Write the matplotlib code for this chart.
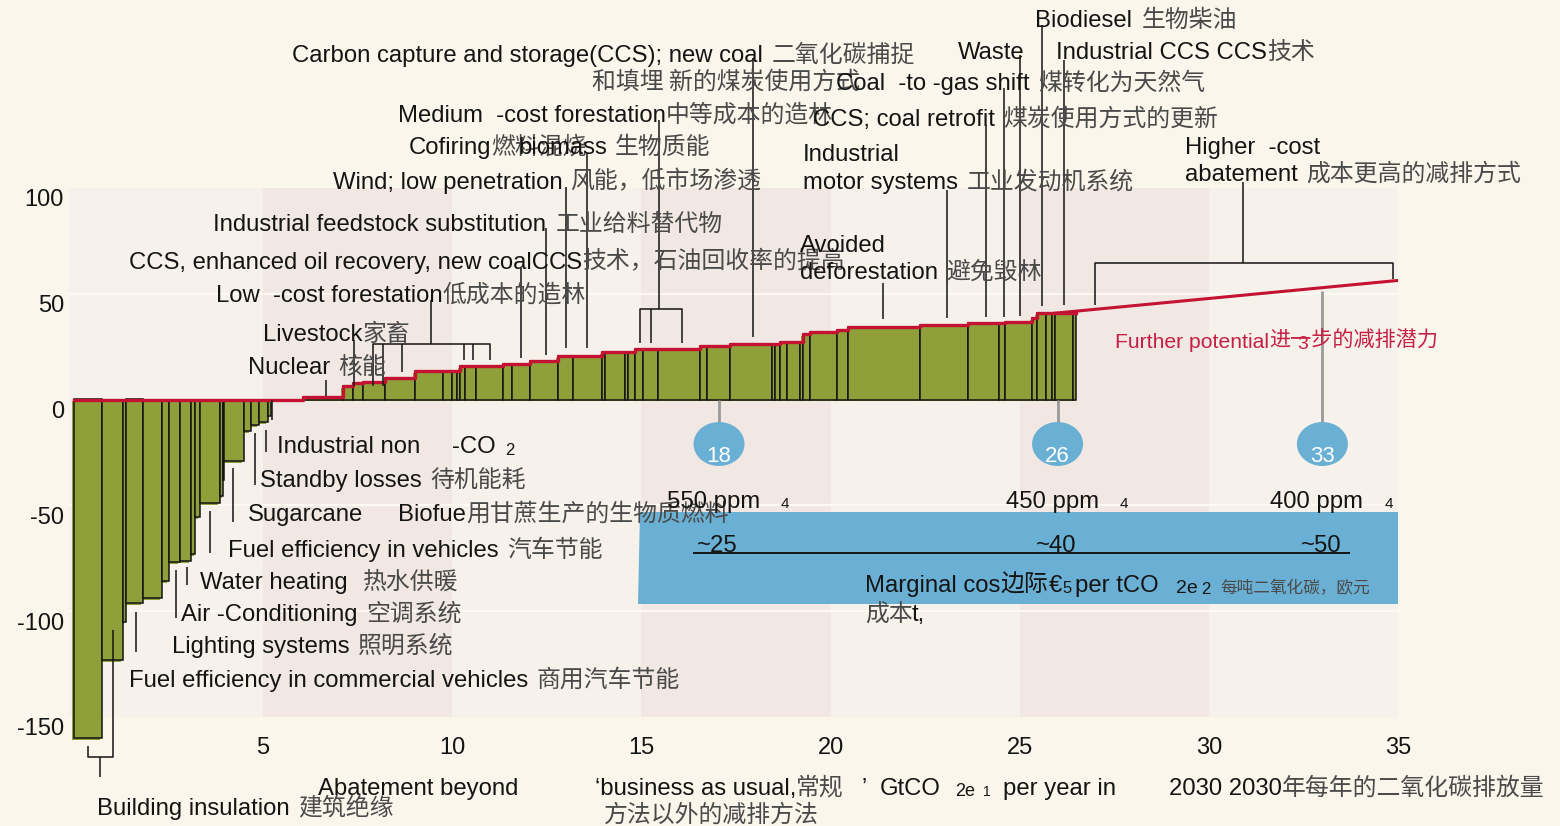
import matplotlib
matplotlib.use("Agg")
import matplotlib.pyplot as plt
from matplotlib.patches import Rectangle, Ellipse, Polygon

EN = "Liberation Sans"
CN = "Noto Sans CJK SC"
plt.rcParams["font.family"] = [EN, CN, "DejaVu Sans"]

# ---- data: abatement (GtCO2e / yr) vs cost (EUR / tCO2e) --------------------
neg_edges = [0, 0.73, 1.29, 1.37, 1.83, 2.33, 2.51, 2.80, 3.08, 3.21, 3.33,
             3.86, 3.95, 3.97, 4.50, 4.67, 4.88, 5.12, 5.20]
neg_costs = [-160, -123, -105, -96, -94, -86, -77, -76.5, -73, -55.5, -49,
             -45.5, -38, -29, -14.7, -12, -10.8, -8]
pos_edges = [6.06, 7.12, 7.38, 7.65, 8.22, 9.01, 9.76, 9.98, 10.12, 10.20,
             10.34, 10.62, 11.35, 11.57, 12.05, 12.80, 13.20, 13.95, 14.04,
             14.57, 14.65, 14.83, 15.05, 15.45, 16.55, 16.72, 17.34, 18.44,
             18.53, 18.66, 18.84, 19.19, 19.28, 19.46, 20.16, 20.47, 22.36,
             23.64, 24.46, 24.61, 25.32, 25.45, 25.69, 25.84, 25.93, 26.42,
             26.50]
pos_costs = [1.3, 6.4, 7.6, 8.4, 10.0, 13.6, 13.6, 13.6, 13.6, 15.8, 15.8,
             15.8, 16.6, 16.6, 18.2, 20.6, 20.6, 22.3, 22.3, 22.3, 22.3, 23.7,
             23.7, 23.7, 25.4, 25.4, 26.2, 26.2, 26.2, 27.0, 27.0, 27.0, 31.0,
             32.0, 32.7, 34.4, 35.4, 36.2, 36.2, 36.5, 38.4, 41.0, 41.0, 41.0,
             40.7, 40.7]
further_x = [25.93, 34.96]
further_y = [40.8, 56.2]

x_ticks = [5, 10, 15, 20, 25, 30, 35]
y_ticks = [100, 50, 0, -50, -100, -150]
bands = [(5, 10), (15, 20), (25, 30)]

target_x = [17.05, 26.0, 33.0]
target_labels = ["18", "26", "33"]
ppm_labels = ["550 ppm", "450 ppm", "400 ppm"]
cost_labels = ["~25", "~40", "~50"]

# ---- colours ----------------------------------------------------------------
CREAM = "#faf6ec"
PLOT_BG = "#f6f1ea"
BAND = "#f1e8e3"
GREEN = "#8fa03a"
RED = "#c41232"
BLUE = "#6ab0d4"
INK = "#141414"
CN_INK = "#4a4a4a"
FS = 17.2

# pixel -> data mapping of the reference layout
XPX, XS = 74.0, 37.83
YPX, YS = 399.5, 2.116


def px2d(px, py):
    return (px - XPX) / XS, (YPX - py) / YS


fig = plt.figure(figsize=(15.6, 8.26), dpi=100, facecolor=CREAM)
ax = fig.add_axes([0, 0, 1, 1])
ax.set_xlim(px2d(0, 0)[0], px2d(1560, 0)[0])
ax.set_ylim(px2d(0, 826)[1], px2d(0, 0)[1])
ax.axis("off")

# plot background + bands + faint grid
ax.add_patch(Rectangle((-0.13, y_ticks[-1]), 35.13, y_ticks[0] - y_ticks[-1],
                       fc=PLOT_BG, ec="none", zorder=0))
for a, b in bands:
    ax.add_patch(Rectangle((a, y_ticks[-1]), b - a, y_ticks[0] - y_ticks[-1],
                           fc=BAND, ec="none", zorder=0.1))
ax.hlines([50, -50, -100], -0.13, 35, color="#fcfaf3", lw=1.6, zorder=0.2)

# bars
segs = list(zip(neg_edges[:-1], neg_edges[1:], neg_costs)) + \
    list(zip(pos_edges[:-1], pos_edges[1:], pos_costs))
for x0, x1, h in segs:
    w = x1 - x0
    ax.add_patch(Rectangle((x0 - 0.05, min(0, h) - 0.9), w, abs(h),
                           fc=GREEN, ec="none", zorder=1))
    ax.add_patch(Rectangle((x0, min(0, h)), w, abs(h), fc=GREEN, ec=INK,
                           lw=1.1, zorder=2))

# red cost curve
edges = neg_edges + pos_edges
tops = [0] * len(neg_costs) + [0] + pos_costs
ax.step(edges, tops + [tops[-1]], where="post", color=RED, lw=2.4, zorder=3)
ax.plot(further_x, further_y, color=RED, lw=2.2, zorder=3)

# tick labels
for v in y_ticks:
    x, y = px2d(64, YPX - v * YS + 10 + 8.5)
    ax.text(x, y, str(v), fontsize=17, color=INK, ha="right", va="baseline")
for v in x_ticks:
    x, y = px2d(XPX + v * XS, 745 + 8.5)
    ax.text(x, y, str(v), fontsize=17, color=INK, ha="center", va="baseline")


def label(px, py, en="", cn="", size=FS, gap=5, color=INK, cn_color=CN_INK):
    x, y = px2d(px, py + size * 0.5)
    if not en:
        ax.text(x, y, cn, fontsize=size, color=cn_color, family=[CN, EN],
                va="baseline", ha="left", zorder=6)
        return
    t = ax.text(x, y, en, fontsize=size, color=color, family=[EN, CN],
                va="baseline", ha="left", zorder=6)
    if cn:
        ax.annotate(cn, xy=(1, 0), xycoords=t, xytext=(gap, size * 0.21),
                    textcoords="offset points", fontsize=size, color=cn_color,
                    family=[CN, EN], va="baseline", ha="left", zorder=6)


def leader(pts, color=INK, lw=1.1):
    xs, ys = zip(*[px2d(px, py) for px, py in pts])
    ax.plot(xs, ys, color=color, lw=lw, zorder=4, solid_capstyle="butt")


# ---- leaders ----------------------------------------------------------------
for pts in [
    [(753, 58), (753, 337)],
    [(659, 120), (659, 309)], [(640, 343), (640, 309), (681.7, 309), (681.7, 343)],
    [(650.7, 309), (650.7, 343)],
    [(587, 153), (587, 348)], [(566, 187), (566, 348)],
    [(545.5, 228), (545.5, 355)], [(521, 268), (521, 358)],
    [(431, 300), (431, 344)], [(373, 386), (373, 344), (490, 344), (490, 360)],
    [(383, 344), (383, 386)], [(402, 344), (402, 372)],
    [(464, 344), (464, 360)], [(472.7, 344), (472.7, 360)],
    [(354, 340), (354, 386)], [(326, 380), (326, 396)],
    [(883, 283), (883, 319)], [(947, 190), (947, 318)],
    [(985.5, 125), (985.5, 317)], [(1004, 88), (1004, 317)],
    [(1019.8, 55), (1019.8, 316)], [(1042, 25), (1042, 306)],
    [(1064, 60), (1064, 305)],
    [(1243, 182), (1243, 262.7)],
    [(1095, 305), (1095, 262.7), (1393, 262.7), (1393, 279)],
    [(271.7, 400), (271.7, 420)],
    [(265.7, 430), (265.7, 452)], [(255.3, 433), (255.3, 485)],
    [(232.7, 468), (232.7, 522)], [(210, 511), (210, 553)],
    [(186.7, 567), (186.7, 585)], [(175.7, 570), (175.7, 618)],
    [(136, 612), (136, 652)],
    [(112.7, 630), (112.7, 757), (88, 757), (88, 746)],
    [(100, 757), (100, 777)],
]:
    leader(pts)

# ---- top labels -------------------------------------------------------------
label(292, 53, "Carbon capture and storage(CCS); new coal", "二氧化碳捕捉", gap=6)
label(592, 80, cn="和填埋 新的煤炭使用方式")
label(398, 113, "Medium  -cost forestation", "中等成本的造林", gap=0)
label(409, 145, "Cofiring", "燃料混烧", gap=0)
label(518, 145, "biomass", "生物质能", gap=6)
label(333, 180, "Wind; low penetration", "风能，低市场渗透", gap=5)
label(1035, 18, "Biodiesel", "生物柴油", gap=7)
label(958, 50, "Waste")
label(1056, 50, "Industrial CCS CCS", "技术", gap=0)
label(836, 81, "Coal  -to -gas shift", "煤转化为天然气", gap=6)
label(813, 117, "CCS; coal retrofit", "煤炭使用方式的更新", gap=6)
label(803, 152, "Industrial")
label(803, 180, "motor systems", "工业发动机系统", gap=6)
label(1185, 145, "Higher  -cost")
label(1185, 172, "abatement", "成本更高的减排方式", gap=6)
label(213, 222, "Industrial feedstock substitution", "工业给料替代物", gap=7)
label(129, 260, "CCS, enhanced oil recovery, new coalCCS", "技术，石油回收率的提高", gap=0)
label(216, 293, "Low  -cost forestation", "低成本的造林", gap=0)
label(263, 332, "Livestock", "家畜", gap=0)
label(248, 365, "Nuclear", "核能", gap=6)
label(800, 243, "Avoided")
label(800, 270, "deforestation", "避免毁林", gap=6)

# ---- lower labels -----------------------------------------------------------
label(277, 444, "Industrial non")
label(452, 444, "-CO")
label(505, 449, "2", size=12)
label(260, 478, "Standby losses", "待机能耗", gap=6)
label(248, 512, "Sugarcane")
label(398, 512, "Biofue", "用甘蔗生产的生物质燃料", gap=0)
label(228, 548, "Fuel efficiency in vehicles", "汽车节能", gap=6)
label(200, 580, "Water heating", "热水供暖", gap=11)
label(181, 612, "Air -Conditioning", "空调系统", gap=6)
label(172, 644, "Lighting systems", "照明系统", gap=6)
label(129, 678, "Fuel efficiency in commercial vehicles", "商用汽车节能", gap=6)
label(97, 806, "Building insulation", "建筑绝缘", gap=6)

# ---- axis title -------------------------------------------------------------
label(318, 786, "Abatement beyond")
label(595, 786, "\u2018business as usual,", "常规", gap=0)
label(862, 786, "\u2019")
label(880, 786, "GtCO")
label(955, 789, "2e", size=13)
label(983, 791, "1", size=10)
label(1003, 786, "per year in")
label(1169, 786, "2030 2030", "年每年的二氧化碳排放量", gap=0)
label(604, 813, cn="方法以外的减排方法")

# ---- targets: circles, ppm box ----------------------------------------------
ax.add_patch(Polygon([px2d(640, 512), px2d(1398, 512), px2d(1398, 604),
                      px2d(638, 604)], closed=True, fc=BLUE, ec="none", zorder=1))
cy = px2d(0, 444)[1]
for xv, num, ppm, cost in zip(target_x, target_labels, ppm_labels, cost_labels):
    cpx = XPX + xv * XS
    top = 291 if xv > 30 else 400
    leader([(cpx, top), (cpx, 422)], color="#9a9a9a", lw=2)
    ax.add_patch(Ellipse((xv, cy), 51 / XS, 44 / YS, fc=BLUE, ec="none", zorder=5))
    ax.text(xv, px2d(0, 462)[1], num, fontsize=16, color="white",
            ha="center", va="baseline", zorder=6)
    label(cpx - 52, 499, ppm)
    label(cpx + 62, 502, "4", size=11)
    label(cpx - 22, 543, cost)
leader([(693, 553), (1350, 553)], lw=1.4)
label(865, 583, "Marginal cos", "边际", gap=0, cn_color=INK)
label(1049, 583, "\u20ac")
label(1062, 587, "5", size=12)
label(1075, 583, "per tCO")
label(1176, 586, "2e", size=14)
label(1201, 588, "2", size=12)
label(1220, 587, cn="每吨二氧化碳，欧元", size=12)
label(865, 612, cn="成本", size=FS)
label(912, 612, "t,")

# further potential
label(1115, 340, "Further potential", "进一步的减排潜力", size=15.2, gap=0,
      color="#c51f44", cn_color="#c51f44")
label(1297, 342, "3", size=14, color="#c51f44")

fig.savefig("out.png", dpi=100, facecolor=CREAM)
